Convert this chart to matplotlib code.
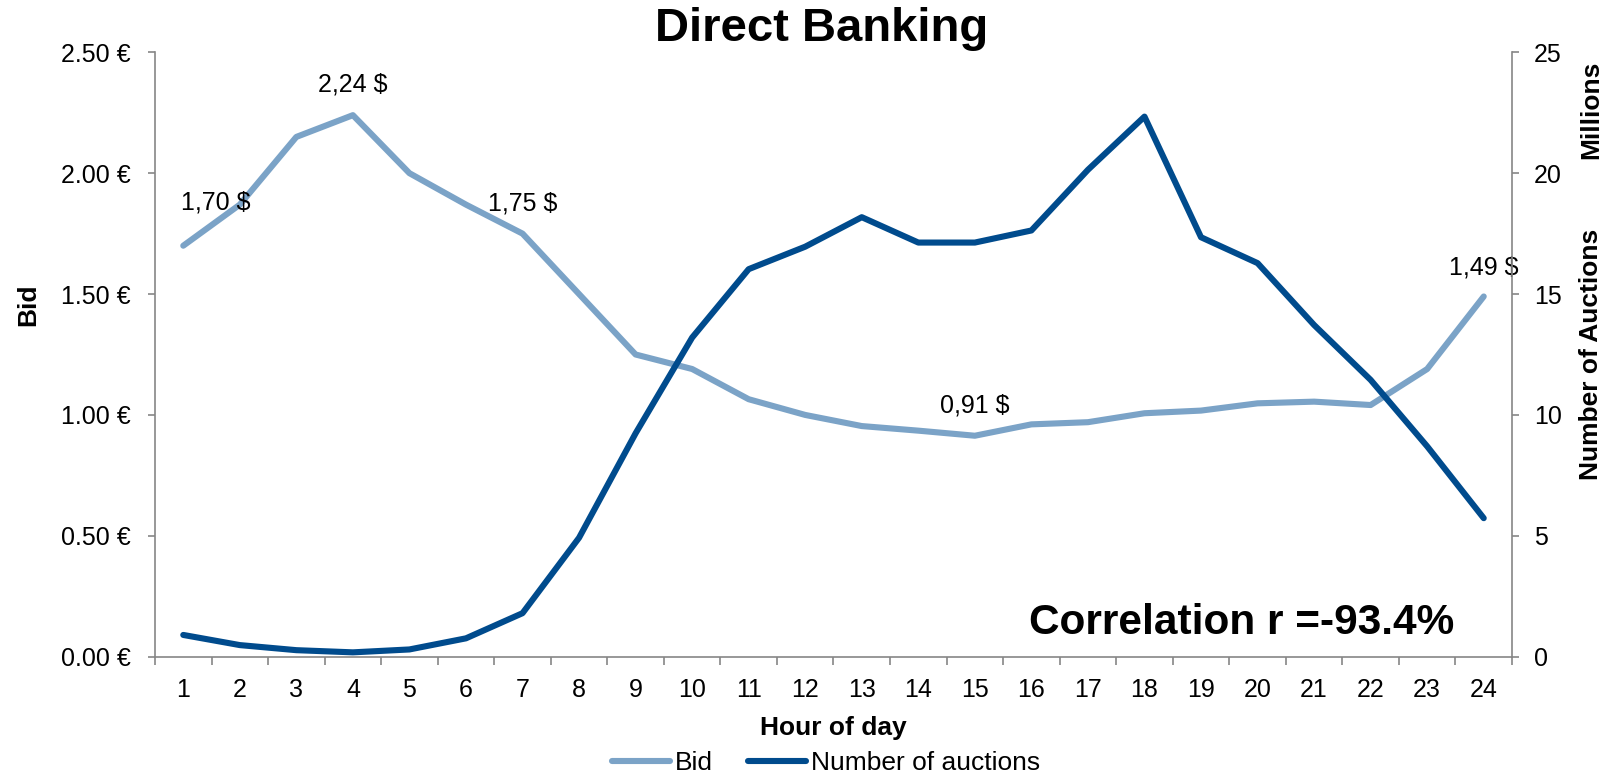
import numpy as np
import matplotlib
matplotlib.use("Agg")
import matplotlib.pyplot as plt
from matplotlib.ticker import FixedLocator, FuncFormatter

plt.rcParams['font.family'] = ['Liberation Sans', 'DejaVu Sans']

# data
hours = list(range(1, 25))
bid = [1.70, 1.87, 2.15, 2.24, 2.00, 1.87, 1.75, 1.50, 1.25, 1.19, 1.065, 1.00,
       0.954, 0.935, 0.914, 0.961, 0.970, 1.007, 1.018, 1.048, 1.055, 1.041, 1.19, 1.49]
auctions = [0.90, 0.48, 0.27, 0.18, 0.30, 0.76, 1.80, 4.92, 9.24, 13.20, 16.03, 16.96,
            18.18, 17.13, 17.13, 17.63, 20.14, 22.34, 17.35, 16.28, 13.72, 11.45, 8.70, 5.73]
label_idx = [0, 3, 6, 14, 23]
label_txt = ["1,70 $", "2,24 $", "1,75 $", "0,91 $", "1,49 $"]
bid_ticks = [0.0, 0.5, 1.0, 1.5, 2.0, 2.5]
auc_ticks = [0, 5, 10, 15, 20, 25]

W, H = 1606, 776
light = "#7BA3C7"
dark = "#004B8D"
grey = "#868686"

fig = plt.figure(figsize=(W / 100, H / 100), dpi=100)
ax = fig.add_axes([155 / W, 1 - 656.7 / H, (1512 - 155) / W, (656.7 - 52.3) / H])
ax2 = ax.twinx()

l1, = ax.plot(hours, bid, color=light, lw=4.4, solid_capstyle='round',
              solid_joinstyle='round', label="Bid")
l2, = ax2.plot(hours, auctions, color=dark, lw=4.4, solid_capstyle='round',
               solid_joinstyle='round', label="Number of auctions")

# data labels (pixel offsets from the point, baseline aligned)
offs = [(32, 36), (0, 24), (0, 23), (0, 23), (0, 22)]
for i, t, o in zip(label_idx, label_txt, offs):
    ax.annotate(t, (hours[i], bid[i]), xytext=o, textcoords='offset pixels',
                ha='center', va='baseline', fontsize=18)

ax.set_xlim(0.5, 24.5)
ax.set_ylim(0, 2.5)
ax2.set_ylim(0, 25)

ax.set_yticks(bid_ticks)
ax.yaxis.set_major_formatter(FuncFormatter(lambda v, p: "{:.2f} €".format(v)))
ax2.set_yticks(auc_ticks)

ax.set_xticks(hours)
ax.xaxis.set_minor_locator(FixedLocator(np.arange(0.5, 25, 1)))
ax.tick_params(axis='x', which='major', length=0, pad=15.5, labelsize=18)
ax.tick_params(axis='x', which='minor', length=5.5, width=1.2, color=grey, direction='out')
ax.tick_params(axis='y', length=5, width=1.2, color=grey, pad=12.5, labelsize=18)
ax2.tick_params(axis='y', length=5, width=1.2, color=grey, pad=10.8, labelsize=18)

for a in (ax, ax2):
    a.spines['top'].set_visible(False)
    for s in ('left', 'bottom', 'right'):
        a.spines[s].set_color(grey)
        a.spines[s].set_linewidth(1.2)
ax.spines['right'].set_visible(False)
ax2.spines['left'].set_visible(False)
ax2.spines['bottom'].set_visible(False)

fig.text(822 / W, 1 - 41 / H, "Direct Banking", ha='center', va='baseline',
         fontsize=34, fontweight='bold')
fig.text(833 / W, 1 - 735 / H, "Hour of day", ha='center', va='baseline',
         fontsize=19, fontweight='bold')
fig.text(28.5 / W, 1 - 305 / H, "Bid", ha='center', va='center', rotation=90,
         fontsize=19, fontweight='bold')
fig.text(1591 / W, 1 - 354 / H, "Number of Auctions", ha='center', va='center',
         rotation=90, fontsize=19, fontweight='bold')
fig.text(1591 / W, 1 - 110 / H, "Millions", ha='center', va='center',
         rotation=90, fontsize=19, fontweight='bold')
fig.text(1242 / W, 1 - 634 / H, "Correlation r =-93.4%", ha='center', va='baseline',
         fontsize=30.5, fontweight='bold')

fig.legend(handles=[l1, l2], loc='center', bbox_to_anchor=(826 / W, 1 - 763 / H),
           ncol=2, frameon=False, fontsize=19, handlelength=2.2, handletextpad=0.2,
           columnspacing=1.3, borderaxespad=0, borderpad=0)

fig.savefig("out.png", dpi=100)
